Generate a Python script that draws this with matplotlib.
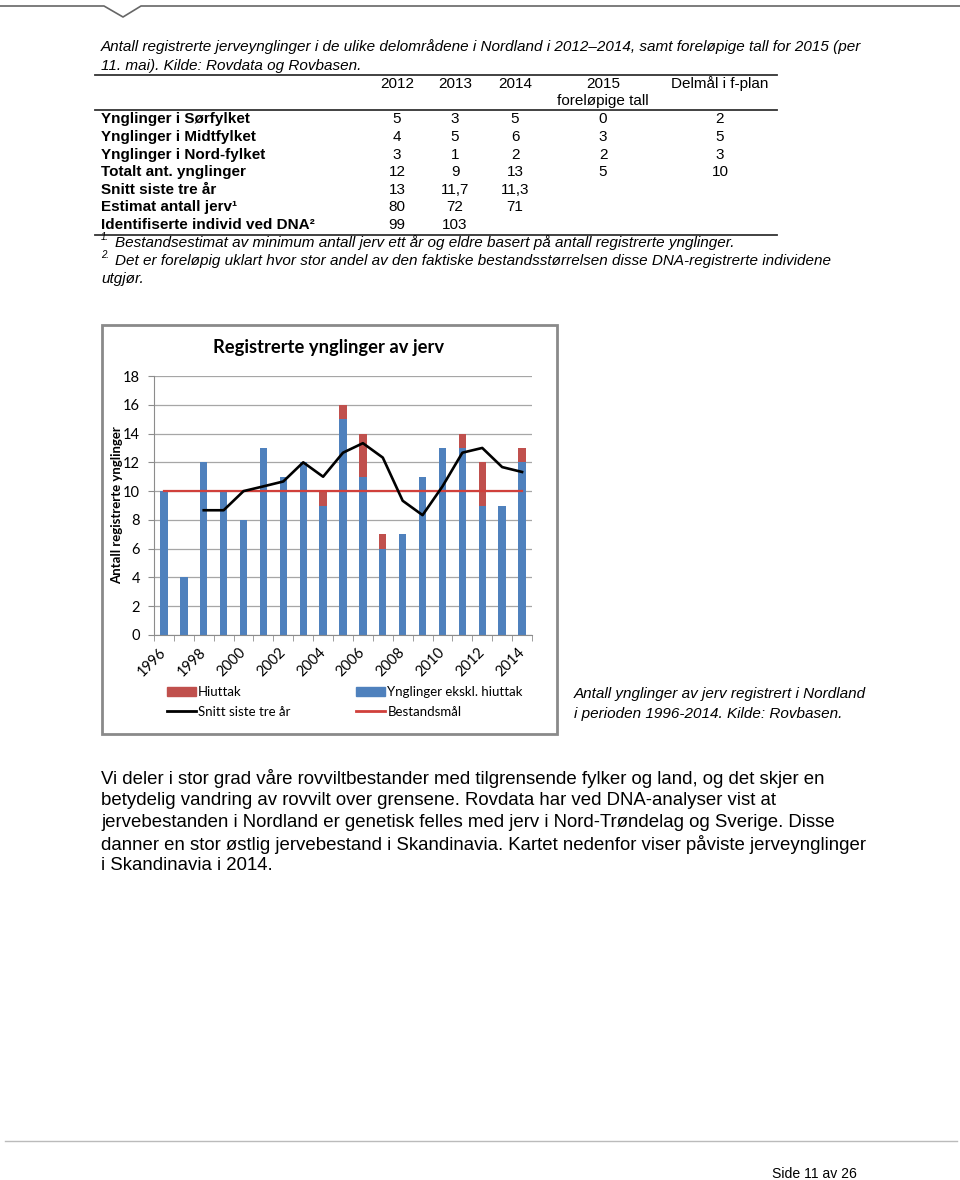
import matplotlib.pyplot as plt
import numpy as np
from matplotlib.lines import Line2D
from matplotlib.patches import Rectangle, Patch

# ---- data ----
years = list(range(1996, 2015))
ynglinger_ekskl = [10, 4, 12, 10, 8, 13, 11, 12, 9, 15, 11, 6, 7, 11, 13, 13, 9, 9, 12]
hiuttak = [0, 0, 0, 0, 0, 0, 0, 0, 1, 1, 3, 1, 0, 0, 0, 1, 3, 0, 1]
snitt_years = list(range(1998, 2015))
snitt = [8.67, 8.67, 10.0, 10.33, 10.67, 12.0, 11.0, 12.67, 13.33, 12.33,
         9.33, 8.33, 10.33, 12.67, 13.0, 11.67, 11.33]
bestandsmal = 10

table_head = ['2012', '2013', '2014', '2015', 'Delmål i f-plan']
table_rows = ['Ynglinger i Sørfylket', 'Ynglinger i Midtfylket', 'Ynglinger i Nord-fylket',
              'Totalt ant. ynglinger', 'Snitt siste tre år', 'Estimat antall jerv¹',
              'Identifiserte individ ved DNA²']
table_vals = [['5', '3', '5', '0', '2'],
              ['4', '5', '6', '3', '5'],
              ['3', '1', '2', '2', '3'],
              ['12', '9', '13', '5', '10'],
              ['13', '11,7', '11,3', '', ''],
              ['80', '72', '71', '', ''],
              ['99', '103', '', '', '']]

W, H = 960, 1180
plt.rcParams['font.family'] = ['Liberation Sans', 'DejaVu Sans']
fig = plt.figure(figsize=(W / 100, H / 100), dpi=100)


def fx(x):
    return x / W


def fy(y):
    return 1 - y / H


def txt(x, y, s, **kw):
    kw.setdefault('va', 'center')
    fig.text(fx(x), fy(y), s, **kw)


def hline(x0, x1, y, lw=1.0, c='#333333'):
    fig.add_artist(Line2D([fx(x0), fx(x1)], [fy(y), fy(y)], lw=lw, color=c))


# top header decoration
fig.add_artist(Line2D([fx(0), fx(104), fx(123), fx(141), fx(960)],
                      [fy(6), fy(6), fy(17), fy(6), fy(6)], lw=1.2, color='#666666'))

# caption above table
cap_fs = 11.0
txt(101, 47, 'Antall registrerte jerveynglinger i de ulike delområdene i Nordland i 2012–2014, samt foreløpige tall for 2015 (per',
    style='italic', fontsize=cap_fs)
txt(101, 66, '11. mai). Kilde: Rovdata og Rovbasen.', style='italic', fontsize=cap_fs)

# table
tfs = 11
hline(95, 777, 75, lw=1.3)
hline(95, 777, 110, lw=1.3)
hline(95, 777, 235, lw=1.3)
col_x = [397, 455, 515, 603, 720]
for cx, h in zip(col_x, table_head):
    txt(cx, 84, h, ha='center', fontsize=tfs)
txt(603, 101, 'foreløpige tall', ha='center', fontsize=tfs)
row_y = [119, 137, 155, 172, 190, 207, 225]
for ry, lab, vals in zip(row_y, table_rows, table_vals):
    txt(101, ry, lab, fontweight='bold', fontsize=tfs)
    for cx, v in zip(col_x, vals):
        txt(cx, ry, v, ha='center', fontsize=tfs)

txt(101, 237, '1.', fontsize=7, style='italic')
txt(115, 243, 'Bestandsestimat av minimum antall jerv ett år og eldre basert på antall registrerte ynglinger.',
    style='italic', fontsize=tfs)
txt(101, 255, '2.', fontsize=7, style='italic')
txt(115, 261, 'Det er foreløpig uklart hvor stor andel av den faktiske bestandsstørrelsen disse DNA-registrerte individene',
    style='italic', fontsize=tfs)
txt(101, 279, 'utgjør.', style='italic', fontsize=tfs)

# chart frame
fig.add_artist(Rectangle((fx(102), fy(734)), fx(557) - fx(102), fy(325) - fy(734),
                         transform=fig.transFigure, fill=False, ec='#8a8a8a', lw=2.0))

cfont = ['Lato', 'DejaVu Sans']
blue = '#4F81BD'
red = '#C0504D'

ax = fig.add_axes([fx(154), fy(635), fx(532) - fx(154), fy(376) - fy(635)])
x = np.arange(len(years))
ax.bar(x, ynglinger_ekskl, width=0.37, color=blue, zorder=2)
ax.bar(x, hiuttak, width=0.37, bottom=ynglinger_ekskl, color=red, zorder=2)
ax.plot(x, [bestandsmal] * len(years), color='#D0403B', lw=1.6, zorder=3)
sx = [years.index(y) for y in snitt_years]
ax.plot(sx, snitt, color='black', lw=1.9, zorder=4)

ax.set_xlim(-0.5, len(years) - 0.5)
ax.set_ylim(0, 18)
ax.set_yticks(range(0, 19, 2))
ax.grid(axis='y', color='#a6a6a6', lw=0.9, zorder=0)
for s in ['top', 'right']:
    ax.spines[s].set_visible(False)
for s in ['left', 'bottom']:
    ax.spines[s].set_color('#8c8c8c')
ax.set_xticks(x[::2])
ax.set_xticklabels([str(y) for y in years[::2]], rotation=45, ha='right', va='center',
                   rotation_mode='anchor', family=cfont, fontsize=10.5)
ax.tick_params(axis='x', length=0, pad=11)
ax.set_xticks(np.arange(-0.5, len(years), 1), minor=True)
ax.tick_params(axis='x', which='minor', length=4, color='#8c8c8c')
ax.tick_params(axis='y', length=4, color='#8c8c8c', labelsize=10.5, pad=6)
for t in ax.get_yticklabels():
    t.set_family(cfont)
ax.set_facecolor('none')

txt(329, 348, 'Registrerte ynglinger av jerv', ha='center', fontweight='bold', family=cfont, fontsize=13.2)
txt(117, 505, 'Antall registrerte ynglinger', ha='center', rotation=90, fontweight='bold',
    family=cfont, fontsize=9.5)

handles = [Patch(color=red), Line2D([], [], color='black', lw=2),
           Patch(color=blue), Line2D([], [], color='#D0403B', lw=2)]
labels = ['Hiuttak', 'Snitt siste tre år', 'Ynglinger ekskl. hiuttak', 'Bestandsmål']
fig.legend(handles, labels, ncol=2, loc='upper left', bbox_to_anchor=(fx(167), fy(686)),
           frameon=False, borderpad=0, borderaxespad=0, handlelength=2.2, handleheight=0.6,
           handletextpad=0.15, columnspacing=5.0, labelspacing=0.6,
           prop={'family': cfont, 'size': 9.5})

# caption right of chart
txt(574, 694, 'Antall ynglinger av jerv registrert i Nordland', style='italic', fontsize=cap_fs)
txt(574, 714, 'i perioden 1996-2014. Kilde: Rovbasen.', style='italic', fontsize=cap_fs)

# body paragraph
para = ['Vi deler i stor grad våre rovviltbestander med tilgrensende fylker og land, og det skjer en',
        'betydelig vandring av rovvilt over grensene. Rovdata har ved DNA-analyser vist at',
        'jervebestanden i Nordland er genetisk felles med jerv i Nord-Trøndelag og Sverige. Disse',
        'danner en stor østlig jervebestand i Skandinavia. Kartet nedenfor viser påviste jerveynglinger',
        'i Skandinavia i 2014.']
for i, line in enumerate(para):
    txt(101, 779 + i * 21.7, line, fontsize=13.4)

# footer
hline(5, 957, 1141, lw=1.0, c='#bbbbbb')
txt(772, 1174, 'Side 11 av 26', fontsize=10.1)

plt.savefig('out.png', dpi=100)
